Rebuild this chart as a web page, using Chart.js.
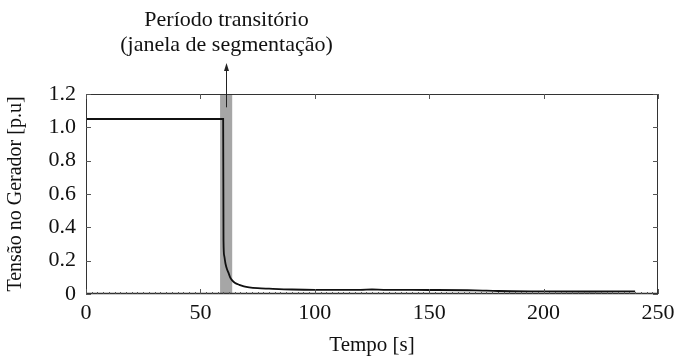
<!DOCTYPE html>
<html>
<head>
    <title>Tensão no Gerador</title>
    <style>
        html, body { margin: 0; padding: 0; background: #fff; }
        #wrap { width: 675px; height: 362px; }
    </style>
</head>
<body>
<div id="wrap"><canvas id="tensaoChart"></canvas></div>
<script src="https://cdn.jsdelivr.net/npm/chart.js"></script>
<script>
    // tempo [s] e tensão [p.u] medidos no gerador
    var tempo   = [0, 20, 40, 59.95, 60.1, 60.4, 61, 61.6, 62.2, 63, 63.8, 65, 67, 69, 71.3, 75, 80, 90, 100, 120, 125, 130, 150, 170, 180, 200, 220, 240];
    var tensao  = [1.05, 1.05, 1.05, 1.05, 0.32, 0.23, 0.18, 0.15, 0.13, 0.1, 0.083, 0.068, 0.055, 0.046, 0.04, 0.035, 0.032, 0.027, 0.025, 0.025, 0.027, 0.025, 0.024, 0.022, 0.018, 0.016, 0.015, 0.016];

    // janela de segmentação (período transitório)
    var janela = [58.6, 63.9];
    var anotacao = ['Período transitório', '(janela de segmentação)'];

    var xTicks = [0, 50, 100, 150, 200, 250];
    var yTicks = [0, 0.2, 0.4, 0.6, 0.8, 1.0, 1.2];

    var serif = '"Liberation Serif", "Times New Roman", serif';

    var pontos = tempo.map(function (t, i) { return { x: t, y: tensao[i] }; });

    var molduraPlugin = {
        id: 'moldura',
        beforeDatasetsDraw: function (chart) {
            var ctx = chart.ctx, xs = chart.scales.x, ys = chart.scales.y;
            var x0 = xs.getPixelForValue(janela[0]), x1 = xs.getPixelForValue(janela[1]);
            var yTop = ys.getPixelForValue(1.2), yBot = ys.getPixelForValue(0);
            ctx.save();
            ctx.fillStyle = '#a6a6a6';
            ctx.fillRect(x0, yTop, x1 - x0, yBot - yTop);
            ctx.restore();
        },
        afterDatasetsDraw: function (chart) {
            var ctx = chart.ctx, xs = chart.scales.x, ys = chart.scales.y;
            var a = chart.chartArea;
            ctx.save();
            // contorno
            ctx.strokeStyle = '#333';
            ctx.lineWidth = 1;
            ctx.strokeRect(a.left + 0.5, a.top + 0.5, a.right - a.left - 1, a.bottom - a.top - 1);
            ctx.lineWidth = 1.5;
            ctx.beginPath();
            ctx.moveTo(a.left, a.bottom - 0.5);
            ctx.lineTo(a.right, a.bottom - 0.5);
            ctx.stroke();

            // marcas internas
            ctx.lineWidth = 1;
            ctx.strokeStyle = '#555';
            ctx.beginPath();
            xTicks.forEach(function (v) {
                var px = Math.round(xs.getPixelForValue(v)) + 0.5;
                ctx.moveTo(px, a.bottom); ctx.lineTo(px, a.bottom - 5);
                ctx.moveTo(px, a.top); ctx.lineTo(px, a.top + 5);
            });
            yTicks.forEach(function (v) {
                var py = Math.round(ys.getPixelForValue(v)) + 0.5;
                ctx.moveTo(a.left, py); ctx.lineTo(a.left + 5, py);
                ctx.moveTo(a.right, py); ctx.lineTo(a.right - 5, py);
            });
            for (var m = 0; m <= 250; m += 2.5) {
                var pm = Math.round(xs.getPixelForValue(m)) + 0.5;
                ctx.moveTo(pm, a.bottom); ctx.lineTo(pm, a.bottom - 2);
            }
            ctx.stroke();

            // seta e texto da janela
            var cx = Math.round(xs.getPixelForValue((janela[0] + janela[1]) / 2)) + 0.5;
            var yBase = ys.getPixelForValue(1.12);
            var yTip = 63;
            ctx.strokeStyle = '#222';
            ctx.fillStyle = '#222';
            ctx.beginPath();
            ctx.moveTo(cx, yBase);
            ctx.lineTo(cx, yTip + 6);
            ctx.stroke();
            ctx.beginPath();
            ctx.moveTo(cx, yTip);
            ctx.lineTo(cx - 2.5, yTip + 8);
            ctx.lineTo(cx + 2.5, yTip + 8);
            ctx.closePath();
            ctx.fill();

            ctx.font = '22px ' + serif;
            ctx.textAlign = 'center';
            ctx.textBaseline = 'middle';
            ctx.fillStyle = '#111';
            ctx.fillText(anotacao[0], cx, 20);
            ctx.fillText(anotacao[1], cx, 45);
            ctx.restore();
        }
    };

    new Chart(document.getElementById('tensaoChart'), {
        type: 'line',
        data: {
            datasets: [{
                data: pontos,
                borderColor: '#111',
                borderWidth: 1.8,
                pointRadius: 0,
                fill: false,
                cubicInterpolationMode: 'monotone'
            }]
        },
        options: {
            responsive: true,
            maintainAspectRatio: false,
            animation: false,
            layout: { padding: { top: 94, right: 17, left: 0, bottom: 0 } },
            plugins: { legend: { display: false }, tooltip: { enabled: false } },
            scales: {
                x: {
                    type: 'linear',
                    min: 0, max: 250,
                    afterBuildTicks: function (s) { s.ticks = xTicks.map(function (v) { return { value: v }; }); },
                    afterFit: function (s) { s.height = 68; s.paddingLeft = 0; s.paddingRight = 0; },
                    grid: { display: false, drawTicks: false },
                    border: { display: false },
                    ticks: { color: '#111', font: { family: serif, size: 22 }, padding: 6, maxRotation: 0 },
                    title: { display: true, text: 'Tempo [s]', color: '#111', font: { family: serif, size: 21 }, padding: { top: 6 } }
                },
                y: {
                    min: 0, max: 1.2,
                    afterBuildTicks: function (s) { s.ticks = yTicks.map(function (v) { return { value: v }; }); },
                    afterFit: function (s) { s.width = 86; },
                    grid: { display: false, drawTicks: false },
                    border: { display: false },
                    ticks: {
                        color: '#111', font: { family: serif, size: 22 }, padding: 10,
                        callback: function (v) { return v === 0 ? '0' : v.toFixed(1); }
                    },
                    title: { display: true, text: 'Tensão no Gerador [p.u]', color: '#111', font: { family: serif, size: 20 }, padding: { bottom: 3 } }
                }
            }
        },
        plugins: [molduraPlugin]
    });
</script>
</body>
</html>
